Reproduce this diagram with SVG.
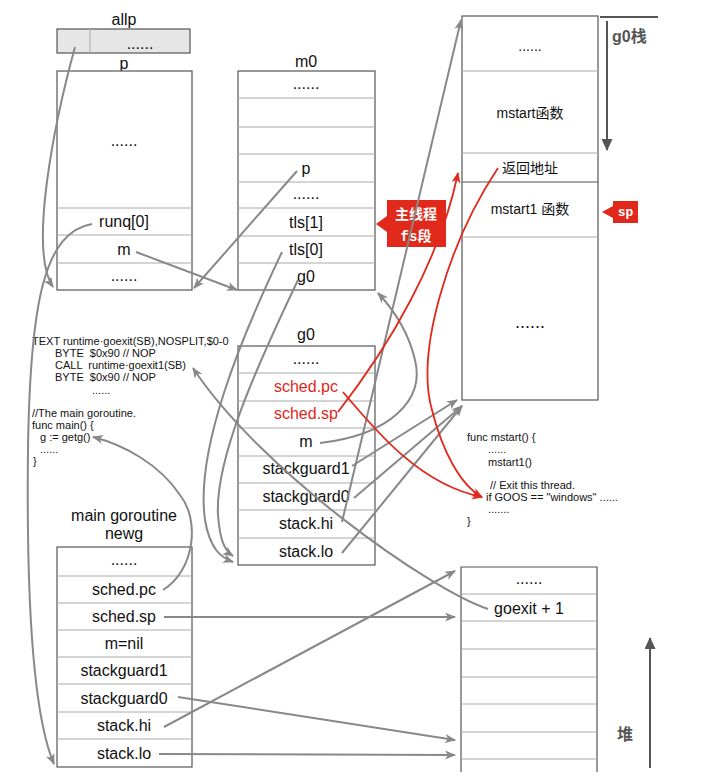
<svg xmlns="http://www.w3.org/2000/svg" width="701" height="779" viewBox="0 0 701 779">
<style>
.box{fill:#fff;stroke:#555;stroke-width:1.2}
.div{stroke:#aaa;stroke-width:1}
.t{font-family:"Liberation Sans",Arial,sans-serif;font-size:16px;fill:#111;text-anchor:middle}
.t14{font-family:"Liberation Sans","Noto Sans CJK SC",sans-serif;font-size:14px;fill:#111;text-anchor:middle}
.red{fill:#e0281b}
.code{font-family:"Liberation Sans",Arial,sans-serif;font-size:11px;fill:#111;white-space:pre}
.c{fill:none;stroke:#888;stroke-width:2}
.r{fill:none;stroke:#e0281b;stroke-width:1.8}
.lab{font-family:"Liberation Sans","Noto Sans CJK SC",sans-serif;font-size:16px;font-weight:bold;fill:#555}
</style>
<defs>
<marker id="ag" markerUnits="userSpaceOnUse" markerWidth="12" markerHeight="10" refX="10" refY="4.5" orient="auto"><path d="M0,0 L11,4.5 L0,9 L3,4.5 z" fill="#888"/></marker>
<marker id="ar" markerUnits="userSpaceOnUse" markerWidth="12" markerHeight="10" refX="10" refY="4.5" orient="auto"><path d="M0,0 L11,4.5 L0,9 L3,4.5 z" fill="#e0281b"/></marker>
<marker id="ad" markerUnits="userSpaceOnUse" markerWidth="14" markerHeight="12" refX="11" refY="5.5" orient="auto"><path d="M0,0 L12,5.5 L0,11 z" fill="#555"/></marker>
</defs>

<g id="allp">
<text class="t" x="124" y="25">allp</text>
<rect x="57" y="29" width="133" height="24" fill="#e6e6e6" stroke="#555" stroke-width="1.2"/>
<line x1="90" y1="29" x2="90" y2="53" class="div"/>
<text class="t" x="140" y="49">......</text>
</g>

<g id="p">
<text class="t" x="124" y="69">p</text>
<rect class="box" x="57" y="71" width="135" height="219"/>
<line class="div" x1="57" y1="208" x2="192" y2="208"/>
<line class="div" x1="57" y1="235" x2="192" y2="235"/>
<line class="div" x1="57" y1="263" x2="192" y2="263"/>
<text class="t" x="124" y="146">......</text>
<text class="t" x="124" y="227">runq[0]</text>
<text class="t" x="124" y="255">m</text>
<text class="t" x="124" y="281">......</text>
</g>

<g id="m0">
<text class="t" x="306" y="67">m0</text>
<rect class="box" x="238" y="71" width="137" height="219"/>
<line class="div" x1="238" y1="98" x2="375" y2="98"/>
<line class="div" x1="238" y1="127" x2="375" y2="127"/>
<line class="div" x1="238" y1="154" x2="375" y2="154"/>
<line class="div" x1="238" y1="182" x2="375" y2="182"/>
<line class="div" x1="238" y1="208" x2="375" y2="208"/>
<line class="div" x1="238" y1="236" x2="375" y2="236"/>
<line class="div" x1="238" y1="263" x2="375" y2="263"/>
<text class="t" x="306" y="89">......</text>
<text class="t" x="306" y="174">p</text>
<text class="t" x="306" y="199">......</text>
<text class="t" x="306" y="228">tls[1]</text>
<text class="t" x="306" y="255">tls[0]</text>
<text class="t" x="306" y="282">g0</text>
</g>

<g id="g0stack">
<rect class="box" x="462" y="16" width="136" height="384"/>
<line class="div" x1="462" y1="71" x2="598" y2="71"/>
<line class="div" x1="462" y1="153" x2="598" y2="153"/>
<line x1="462" y1="182" x2="598" y2="182" stroke="#555" stroke-width="1.2"/>
<line class="div" x1="462" y1="237" x2="598" y2="237"/>
<text class="t14" x="530" y="51">......</text>
<text class="t14" x="530" y="118">mstart函数</text>
<text class="t14" x="530" y="173">返回地址</text>
<text class="t14" x="530" y="214">mstart1 函数</text>
<text class="t" x="530" y="328" style="font-size:18px">......</text>
</g>

<g id="g0stack-label">
<line x1="600" y1="17" x2="658" y2="17" stroke="#555" stroke-width="2"/>
<line x1="607" y1="21" x2="607" y2="150" stroke="#555" stroke-width="2" marker-end="url(#ad)"/>
<text class="lab" x="612" y="42">g0栈</text>
</g>

<g id="sp-label">
<path d="M602,212 L613,206 L613,201 L638,201 L638,223 L613,223 L613,218 z" fill="#e0281b"/>
<text x="625.5" y="216" style="font-family:'Liberation Mono',monospace;font-size:13px;font-weight:bold;fill:#fff;text-anchor:middle">sp</text>
</g>

<g id="fs-label">
<path d="M376,224 L387,216 L387,200 L446,200 L446,247 L387,247 L387,232 z" fill="#e0281b"/>
<text x="416" y="219" style="font-family:'Noto Sans CJK SC',sans-serif;font-size:14px;font-weight:bold;fill:#fff;text-anchor:middle">主线程</text>
<text x="416" y="241" style="font-family:'Noto Sans CJK SC',sans-serif;font-size:14px;font-weight:bold;fill:#fff;text-anchor:middle"><tspan style="font-family:'Liberation Mono',monospace">fs</tspan>段</text>
</g>

<g id="g0">
<text class="t" x="306" y="340">g0</text>
<rect class="box" x="238" y="346" width="137" height="219"/>
<line class="div" x1="238" y1="373" x2="375" y2="373"/>
<line class="div" x1="238" y1="401" x2="375" y2="401"/>
<line class="div" x1="238" y1="428" x2="375" y2="428"/>
<line class="div" x1="238" y1="456" x2="375" y2="456"/>
<line class="div" x1="238" y1="483" x2="375" y2="483"/>
<line class="div" x1="238" y1="510" x2="375" y2="510"/>
<line class="div" x1="238" y1="538" x2="375" y2="538"/>
<text class="t" x="306" y="364">......</text>
<text class="t red" x="306" y="392">sched.pc</text>
<text class="t red" x="306" y="419">sched.sp</text>
<text class="t" x="306" y="447">m</text>
<text class="t" x="306" y="474">stackguard1</text>
<text class="t" x="306" y="502">stackguard0</text>
<text class="t" x="306" y="529">stack.hi</text>
<text class="t" x="306" y="557">stack.lo</text>
</g>

<g id="newg">
<text class="t" x="124" y="521">main goroutine</text>
<text class="t" x="124" y="539">newg</text>
<rect class="box" x="57" y="547" width="135" height="220"/>
<line class="div" x1="57" y1="576" x2="192" y2="576"/>
<line class="div" x1="57" y1="603" x2="192" y2="603"/>
<line class="div" x1="57" y1="630" x2="192" y2="630"/>
<line class="div" x1="57" y1="657" x2="192" y2="657"/>
<line class="div" x1="57" y1="684" x2="192" y2="684"/>
<line class="div" x1="57" y1="712" x2="192" y2="712"/>
<line class="div" x1="57" y1="739" x2="192" y2="739"/>
<text class="t" x="124" y="565">......</text>
<text class="t" x="124" y="595">sched.pc</text>
<text class="t" x="124" y="622">sched.sp</text>
<text class="t" x="124" y="649">m=nil</text>
<text class="t" x="124" y="676">stackguard1</text>
<text class="t" x="124" y="704">stackguard0</text>
<text class="t" x="124" y="731">stack.hi</text>
<text class="t" x="124" y="759">stack.lo</text>
</g>

<g id="heap">
<path d="M461,772 L461,567 L597,567 L597,772" fill="#fff" stroke="#555" stroke-width="1.2"/>
<line class="div" x1="461" y1="594" x2="597" y2="594"/>
<line class="div" x1="461" y1="621" x2="597" y2="621"/>
<line class="div" x1="461" y1="649" x2="597" y2="649"/>
<line class="div" x1="461" y1="677" x2="597" y2="677"/>
<line class="div" x1="461" y1="704" x2="597" y2="704"/>
<line class="div" x1="461" y1="732" x2="597" y2="732"/>
<line class="div" x1="461" y1="759" x2="597" y2="759"/>
<text class="t" x="529" y="584">......</text>
<text class="t" x="529" y="614">goexit + 1</text>
</g>

<g id="heap-label">
<line x1="650" y1="768" x2="650" y2="638" stroke="#555" stroke-width="2" marker-end="url(#ad)"/>
<text class="lab" x="617" y="740">堆</text>
</g>

<g id="code-goexit">
<text class="code" x="32" y="345">TEXT runtime·goexit(SB),NOSPLIT,$0-0</text>
<text class="code" x="55" y="357">BYTE  $0x90 // NOP</text>
<text class="code" x="55" y="369">CALL  runtime·goexit1(SB)</text>
<text class="code" x="55" y="381">BYTE  $0x90 // NOP</text>
<text class="code" x="92" y="394">......</text>
<text class="code" x="32" y="417">//The main goroutine.</text>
<text class="code" x="32" y="429">func main() {</text>
<text class="code" x="40" y="441">g := getg()</text>
<text class="code" x="40" y="453">......</text>
<text class="code" x="33" y="465">}</text>
</g>

<g id="code-mstart">
<text class="code" x="467" y="441">func mstart() {</text>
<text class="code" x="488" y="453">......</text>
<text class="code" x="488" y="466">mstart1()</text>
<text class="code" x="490" y="489">// Exit this thread.</text>
<text class="code" x="486" y="501">if GOOS == "windows" ......</text>
<text class="code" x="488" y="513">.......</text>
<text class="code" x="467" y="525">}</text>
</g>

<g id="connectors">
<path class="c" d="M75,47 C 55,120 28,250 53,287" marker-end="url(#ag)"/>
<path class="c" d="M92,224 C 45,232 30,300 28,450 C 26,620 35,720 54,764" marker-end="url(#ag)"/>
<path class="c" d="M136,252 L237,290" marker-end="url(#ag)"/>
<path class="c" d="M297,171 L194,288" marker-end="url(#ag)"/>
<path class="c" d="M282,252 C 240,340 195,450 205,520 C 210,550 222,558 233,562" marker-end="url(#ag)"/>
<path class="c" d="M298,280 C 255,370 215,460 218,515 C 220,540 224,550 233,556" marker-end="url(#ag)"/>
<path class="c" d="M342,522 L461,20" marker-end="url(#ag)"/>
<path class="c" d="M320,443 C 390,435 425,400 415,360 C 408,330 392,308 378,293" marker-end="url(#ag)"/>
<path class="c" d="M352,466 L457,400" marker-end="url(#ag)"/>
<path class="c" d="M354,498 L462,406" marker-end="url(#ag)"/>
<path class="c" d="M342,553 L462,406" marker-end="url(#ag)"/>
<path class="c" d="M488,609 C 430,590 260,470 193,368" marker-end="url(#ag)"/>
<path class="c" d="M163,590 C 195,570 200,520 180,495 C 160,465 125,445 93,437" marker-end="url(#ag)"/>
<path class="c" d="M164,617 L455,617" marker-end="url(#ag)"/>
<path class="c" d="M178,697 L455,740" marker-end="url(#ag)"/>
<path class="c" d="M164,727 L455,571" marker-end="url(#ag)"/>
<path class="c" d="M159,754 L455,755" marker-end="url(#ag)"/>
<path class="r" d="M338,412 C 390,345 440,260 458,173" marker-end="url(#ar)"/>
<path class="r" d="M343,392 C 375,430 420,485 482,497" marker-end="url(#ar)"/>
<path class="r" d="M498,168 C 450,240 415,350 432,410 C 442,450 460,485 482,497" marker-end="url(#ar)"/>
</g>
</svg>
